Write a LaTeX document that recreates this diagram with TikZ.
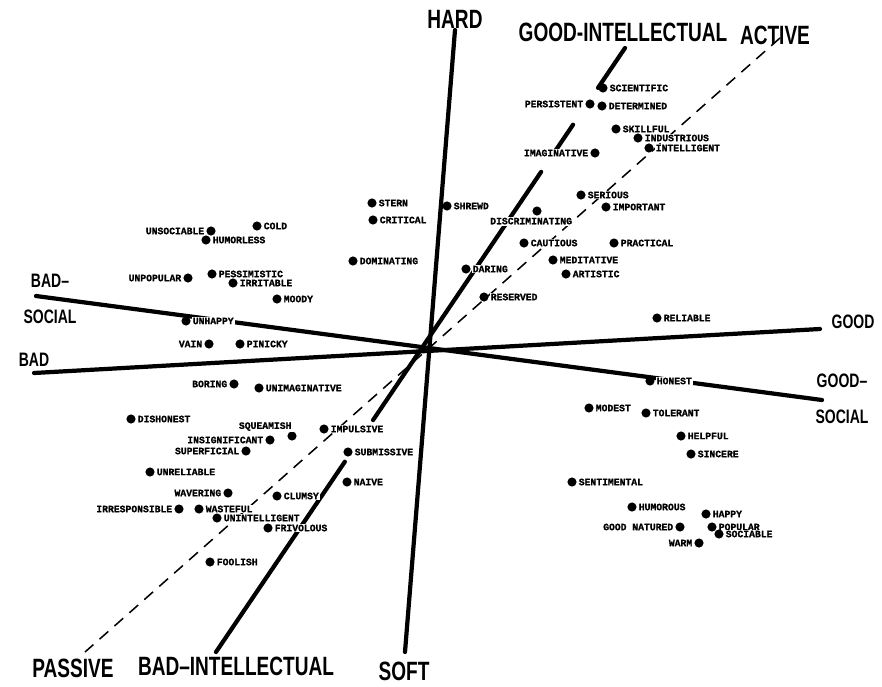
\documentclass[tikz,border=0pt]{standalone}
\usepackage{fontspec}
\usetikzlibrary{calc}
\newfontfamily\axisfont[FakeStretch=0.72]{Liberation Sans}
\newfontfamily\traitfont[FakeBold=1.2]{Liberation Mono}
\begin{document}
\begin{tikzpicture}[x=0.03cm,y=-0.03cm,
  dot/.style={circle,fill=black,inner sep=0pt,minimum size=7.8pt},
  trait/.style={font=\traitfont\bfseries\fontsize{8.3}{9}\selectfont,fill=white,inner sep=1pt},
  label distance=0.5pt,
  axis/.style={line width=3.6pt,line cap=round},
  halfaxis/.style={line width=1.3pt,dash pattern=on 10pt off 7pt},
  biglabel/.style={font=\axisfont\bfseries\fontsize{22.6}{24}\selectfont,inner sep=0pt},
  sidelabel/.style={font=\axisfont\bfseries\fontsize{16.6}{30.7}\selectfont,inner sep=0pt,align=center}]
\useasboundingbox (0,0) rectangle (882,686);

% ends of the axes
\coordinate (hardend) at (455,30);
\coordinate (softend) at (405,652);
\coordinate (activeend) at (780,38);
\coordinate (passiveend) at (85,652);
\coordinate (goodintend) at (625,48);
\coordinate (badintend) at (216,652);
\coordinate (goodend) at (820,329);
\coordinate (badend) at (34,373);
\coordinate (goodsocend) at (822,400);
\coordinate (badsocend) at (36,296);

\draw[axis] (hardend) -- (softend);
\draw[axis] (goodend) -- (badend);
\draw[axis] (goodsocend) -- (badsocend);
\draw[halfaxis] (activeend) -- (passiveend);
% the intellectual axis is broken in places
\draw[axis] (goodintend) -- ($(goodintend)!0.066!(badintend)$);
\draw[axis] ($(goodintend)!0.127!(badintend)$) -- ($(goodintend)!0.174!(badintend)$);
\draw[axis] ($(goodintend)!0.205!(badintend)$) -- ($(goodintend)!0.616!(badintend)$);
\draw[axis] ($(goodintend)!0.685!(badintend)$) -- (badintend);

\node[biglabel] (hard) at (455,19) {HARD};
\node[biglabel] (goodint) at (623,32) {GOOD-INTELLECTUAL};
\node[biglabel] (active) at (775,35) {ACTIVE};
\node[biglabel] (passive) at (73,668) {PASSIVE};
\node[biglabel] (badint) at (236,666) {BAD–INTELLECTUAL};
\node[biglabel] (soft) at (404,671) {SOFT};
\node[sidelabel] (badsoc) at (50,299) {BAD–\\SOCIAL};
\node[sidelabel] (bad) at (34,360) {BAD};
\node[sidelabel] (good) at (853,322) {GOOD};
\node[sidelabel] (goodsoc) at (842,399) {GOOD–\\SOCIAL};

% upper right
\node[dot,label={[trait]right:SCIENTIFIC}] (scientific) at (603,88) {};
\node[dot,label={[trait]left:PERSISTENT}] (persistent) at (590,104) {};
\node[dot,label={[trait]right:DETERMINED}] (determined) at (602,106) {};
\node[dot,label={[trait]right:SKILLFUL}] (skillful) at (616,129) {};
\node[dot,label={[trait]right:INDUSTRIOUS}] (industrious) at (638,138) {};
\node[dot,label={[trait]right:INTELLIGENT}] (intelligent) at (649,148) {};
\node[dot,label={[trait]left:IMAGINATIVE}] (imaginative) at (595,153) {};
\node[dot,label={[trait]right:SERIOUS}] (serious) at (581,195) {};
\node[dot,label={[trait]right:IMPORTANT}] (important) at (606,207) {};
\node[dot,label={[trait,xshift=-5pt]below:DISCRIMINATING}] (discriminating) at (537,211) {};
\node[dot,label={[trait]right:CAUTIOUS}] (cautious) at (524,243) {};
\node[dot,label={[trait]right:PRACTICAL}] (practical) at (614,243) {};
\node[dot,label={[trait]right:MEDITATIVE}] (meditative) at (553,260) {};
\node[dot,label={[trait]right:ARTISTIC}] (artistic) at (566,274) {};
\node[dot,label={[trait]right:DARING}] (daring) at (466,269) {};
\node[dot,label={[trait]right:RESERVED}] (reserved) at (484,297) {};
\node[dot,label={[trait]right:RELIABLE}] (reliable) at (657,318) {};
\node[dot,label={[trait]right:SHREWD}] (shrewd) at (447,206) {};

% upper left
\node[dot,label={[trait]right:STERN}] (stern) at (372,203) {};
\node[dot,label={[trait]right:CRITICAL}] (critical) at (373,220) {};
\node[dot,label={[trait]right:COLD}] (cold) at (257,226) {};
\node[dot,label={[trait]left:UNSOCIABLE}] (unsociable) at (211,231) {};
\node[dot,label={[trait]right:HUMORLESS}] (humorless) at (206,240) {};
\node[dot,label={[trait]right:DOMINATING}] (dominating) at (353,261) {};
\node[dot,label={[trait]left:UNPOPULAR}] (unpopular) at (188,278) {};
\node[dot,label={[trait]right:PESSIMISTIC}] (pessimistic) at (212,274) {};
\node[dot,label={[trait]right:IRRITABLE}] (irritable) at (233,283) {};
\node[dot,label={[trait]right:MOODY}] (moody) at (277,299) {};
\node[dot,label={[trait]right:UNHAPPY}] (unhappy) at (186,321) {};
\node[dot,label={[trait]left:VAIN}] (vain) at (209,344) {};
\node[dot,label={[trait]right:PINICKY}] (finicky) at (240,344) {};

% lower left
\node[dot,label={[trait]left:BORING}] (boring) at (234,384) {};
\node[dot,label={[trait]right:UNIMAGINATIVE}] (unimaginative) at (259,388) {};
\node[dot,label={[trait]right:DISHONEST}] (dishonest) at (131,419) {};
\node[dot,label={[trait,xshift=4pt]above left:SQUEAMISH}] (squeamish) at (292,436) {};
\node[dot,label={[trait]left:INSIGNIFICANT}] (insignificant) at (270,440) {};
\node[dot,label={[trait]right:IMPULSIVE}] (impulsive) at (324,429) {};
\node[dot,label={[trait]left:SUPERFICIAL}] (superficial) at (246,451) {};
\node[dot,label={[trait]right:SUBMISSIVE}] (submissive) at (348,452) {};
\node[dot,label={[trait]right:UNRELIABLE}] (unreliable) at (150,472) {};
\node[dot,label={[trait]right:NAIVE}] (naive) at (347,482) {};
\node[dot,label={[trait]left:WAVERING}] (wavering) at (228,493) {};
\node[dot,label={[trait]right:CLUMSY}] (clumsy) at (277,496) {};
\node[dot,label={[trait]left:IRRESPONSIBLE}] (irresponsible) at (179,509) {};
\node[dot,label={[trait]right:WASTEFUL}] (wasteful) at (199,509) {};
\node[dot,label={[trait]right:UNINTELLIGENT}] (unintelligent) at (217,518) {};
\node[dot,label={[trait]right:FRIVOLOUS}] (frivolous) at (268,528) {};
\node[dot,label={[trait]right:FOOLISH}] (foolish) at (210,562) {};

% lower right
\node[dot,label={[trait]right:HONEST}] (honest) at (650,381) {};
\node[dot,label={[trait]right:MODEST}] (modest) at (589,408) {};
\node[dot,label={[trait]right:TOLERANT}] (tolerant) at (646,413) {};
\node[dot,label={[trait]right:HELPFUL}] (helpful) at (681,436) {};
\node[dot,label={[trait]right:SINCERE}] (sincere) at (691,454) {};
\node[dot,label={[trait]right:SENTIMENTAL}] (sentimental) at (572,482) {};
\node[dot,label={[trait]right:HUMOROUS}] (humorous) at (632,507) {};
\node[dot,label={[trait]right:HAPPY}] (happy) at (706,514) {};
\node[dot,label={[trait]left:GOOD NATURED}] (goodnatured) at (680,527) {};
\node[dot,label={[trait]right:POPULAR}] (popular) at (712,527) {};
\node[dot,label={[trait]right:SOCIABLE}] (sociable) at (719,534) {};
\node[dot,label={[trait]left:WARM}] (warm) at (699,543) {};
\end{tikzpicture}
\end{document}
